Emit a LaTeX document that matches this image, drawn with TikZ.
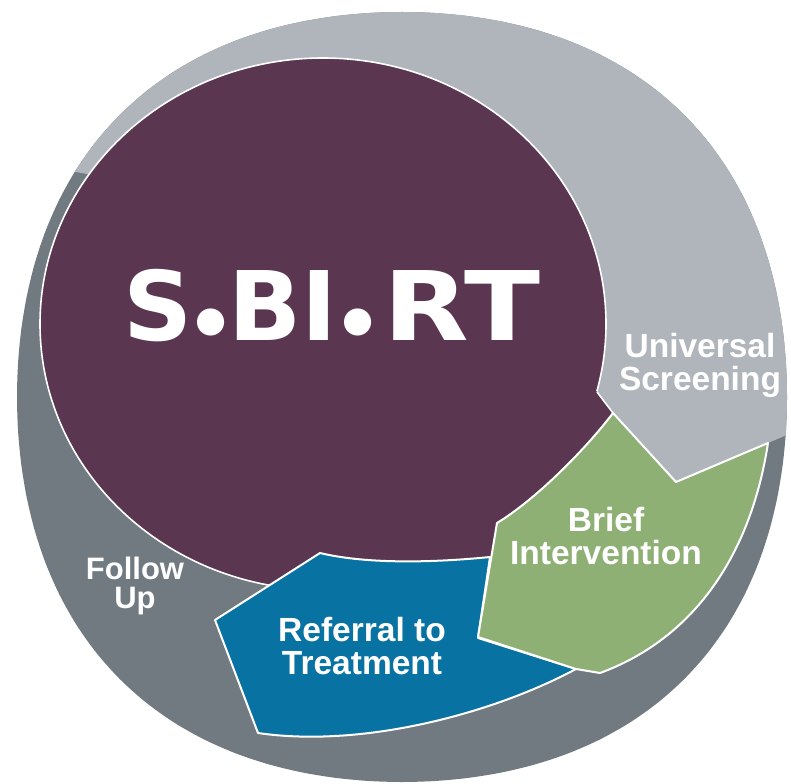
\documentclass[tikz,border=0pt]{standalone}
\usepackage{fontspec}
\usepackage{graphicx}
\setmainfont{Liberation Sans}
\newfontfamily\logofont{DejaVu Sans}
\newfontfamily\dotfont{Poppins}
\definecolor{sbpurple}{HTML}{5B3650}
\definecolor{sblight}{HTML}{AFB5BB}
\definecolor{sbdark}{HTML}{707A80}
\definecolor{sbgreen}{HTML}{8FB075}
\definecolor{sbblue}{HTML}{0872A2}
\begin{document}
\begin{tikzpicture}[x=1pt,y=-1pt,
  lbl/.style={text=white, align=center, inner sep=0pt, font=\fontsize{33.5}{33}\selectfont\bfseries},
  logo/.style={text=white, inner sep=0pt, anchor=base, font=\logofont\fontsize{96}{96}\selectfont\bfseries},
  logodot/.style={text=white, inner sep=0pt, font=\dotfont\fontsize{90}{90}\selectfont\bfseries},
  seg/.style={draw=white, line width=2pt, line join=round}]
\path[use as bounding box] (0,0) rectangle (791,783);
% outer disc (dark gray)
\fill[sbdark] plot[domain=0:355, samples=72, smooth cycle] ({402+(392-7*cos(4*\x))*cos(\x)}, {397+(392-7*cos(4*\x))*sin(\x)});
% light gray upper part
\begin{scope}
\clip plot[domain=0:355, samples=72, smooth cycle] ({402+(392-7*cos(4*\x))*cos(\x)}, {397+(392-7*cos(4*\x))*sin(\x)});
\fill[sblight] (676,482) -- (900,387) -- (900,-50) -- (-50,-50) -- (-50,150) -- (110,178) -- (300,300) -- (597,392) -- (613,413) -- cycle;
\end{scope}
% purple disc
\filldraw[fill=sbpurple, draw=white, line width=1.6pt] (323,324) ellipse [x radius=283pt, y radius=266pt];
% purple extension under the segments
\fill[sbpurple] (585,380) -- (597,392) -- (613,413) -- (620,500) -- (500,600) -- (380,575) -- (350,560) -- cycle;
\draw[white, line width=1.6pt, line join=round] (597,392) -- (613,413);
% blue segment
\filldraw[fill=sbblue, seg] (320,553) .. controls (370,565) and (440,562) .. (490,557) -- (478,638) -- (576,669) .. controls (490,715) and (360,748) .. (258,733) -- (215,620) -- cycle;
% green segment
\filldraw[fill=sbgreen, seg] (613,413) -- (676,482) -- (768,443) .. controls (750,560) and (690,640) .. (600,673) -- (576,669) -- (478,637) -- (497,523) .. controls (535,500) and (585,450) .. (613,413) -- cycle;
% logo
\node[logo] (logoS) at (158,340) {S};
\node[logodot] (dotA) at (211,331) {•};
\node[logo] (logoBI) at (283,340) {BI};
\node[logodot] (dotB) at (358,331) {•};
\node[logo] (logoRT) at (462,340) {\scalebox{1.16}[1]{RT}};
% labels
\node[lbl] (us) at (700,365) {Universal\\Screening};
\node[lbl] (bi) at (606,536) {Brief\\Intervention};
\node[lbl] (rt) at (362,646) {Referral to\\Treatment};
\node[lbl, font=\fontsize{31}{29}\selectfont\bfseries] (fu) at (135,586) {Follow\\Up};
\end{tikzpicture}
\end{document}
